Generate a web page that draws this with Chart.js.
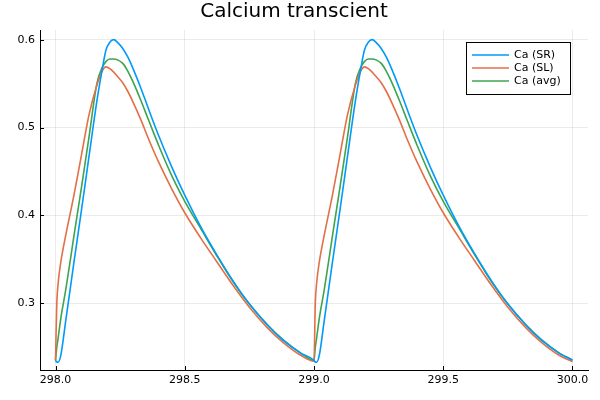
<!DOCTYPE html>
<html>
<head>
<meta charset="utf-8">
<script src="https://cdn.jsdelivr.net/npm/chart.js@4/dist/chart.umd.min.js"></script>
<style>
  html, body { margin: 0; padding: 0; background: #fff; }
  #wrap { width: 600px; height: 400px; }
</style>
</head>
<body>
<div id="wrap"><canvas id="myChart" width="600" height="400"></canvas></div>
<script>
// time (s), two beats
var times = [
  298.0, 298.005, 298.01, 298.02, 298.04, 298.07, 298.10, 298.13, 298.16, 298.18, 298.195, 298.21, 298.225,
  298.24, 298.26, 298.28, 298.30, 298.33, 298.36, 298.40, 298.45, 298.50, 298.56, 298.62, 298.69, 298.75,
  298.82, 298.88, 298.95,
  299.0, 299.005, 299.01, 299.02, 299.04, 299.07, 299.10, 299.13, 299.16, 299.18, 299.195, 299.21, 299.225,
  299.24, 299.26, 299.28, 299.30, 299.33, 299.36, 299.40, 299.45, 299.50, 299.56, 299.62, 299.69, 299.75,
  299.82, 299.88, 299.95, 300.0
];
var ca_sr = [
  0.235, 0.233, 0.233, 0.240, 0.281, 0.344, 0.405, 0.468, 0.530, 0.565, 0.588, 0.597, 0.600,
  0.597, 0.590, 0.580, 0.567, 0.545, 0.521, 0.490, 0.455, 0.423, 0.388, 0.357, 0.324, 0.299,
  0.275, 0.258, 0.243,
  0.235, 0.233, 0.233, 0.240, 0.281, 0.344, 0.405, 0.468, 0.530, 0.565, 0.588, 0.597, 0.600,
  0.597, 0.590, 0.580, 0.567, 0.545, 0.521, 0.490, 0.455, 0.423, 0.388, 0.357, 0.324, 0.299,
  0.275, 0.258, 0.243, 0.235
];
var ca_sl = [
  0.235, 0.300, 0.322, 0.346, 0.378, 0.421, 0.468, 0.515, 0.548, 0.564, 0.569, 0.567, 0.563,
  0.558, 0.551, 0.541, 0.529, 0.509, 0.487, 0.460, 0.430, 0.403, 0.375, 0.349, 0.319, 0.2955,
  0.272, 0.2555, 0.2405,
  0.234, 0.300, 0.322, 0.346, 0.378, 0.421, 0.468, 0.515, 0.548, 0.564, 0.569, 0.567, 0.563,
  0.558, 0.551, 0.541, 0.529, 0.509, 0.487, 0.460, 0.430, 0.403, 0.375, 0.349, 0.319, 0.2955,
  0.272, 0.2555, 0.2405, 0.2335
];
var ca_avg = [
  0.235, 0.250, 0.260, 0.282, 0.316, 0.374, 0.431, 0.490, 0.550, 0.568, 0.575, 0.578, 0.578,
  0.577, 0.573, 0.564, 0.552, 0.531, 0.5085, 0.479, 0.445, 0.416, 0.386, 0.356, 0.323, 0.299,
  0.2755, 0.2585, 0.243,
  0.235, 0.250, 0.260, 0.282, 0.316, 0.374, 0.431, 0.490, 0.550, 0.568, 0.575, 0.578, 0.578,
  0.577, 0.573, 0.564, 0.552, 0.531, 0.5085, 0.479, 0.445, 0.416, 0.386, 0.356, 0.323, 0.299,
  0.2755, 0.2585, 0.243, 0.2355
];
var series_names = ['Ca (SR)', 'Ca (SL)', 'Ca (avg)'];
var x_ticks = [298.0, 298.5, 299.0, 299.5, 300.0];
var y_ticks = [0.3, 0.4, 0.5, 0.6];

var line_color = ['#009AFA', '#E36F47', '#3EA44E'];
var font_name = "'DejaVu Sans', sans-serif";

function to_points(vals) {
    var pts = [];
    for (var i = 0; i < times.length; i++) {
        pts.push({x: times[i], y: vals[i]});
    }
    return pts;
}

var all_series = [ca_sr, ca_sl, ca_avg];
var data_set = [];
for (var s = 0; s < all_series.length; s++) {
    data_set.push({
        label: series_names[s],
        data: to_points(all_series[s]),
        borderColor: line_color[s],
        backgroundColor: line_color[s],
        borderWidth: 1.6,
        pointRadius: 0,
        cubicInterpolationMode: 'monotone',
        fill: false
    });
}

// small inward tick marks like the original plot
const tick_marks = {
    id: 'tick_marks',
    afterDatasetsDraw: (chart) => {
        const ctx = chart.ctx;
        const a = chart.chartArea;
        const xs = chart.scales.x, ys = chart.scales.y;
        ctx.save();
        ctx.strokeStyle = '#000';
        ctx.lineWidth = 1;
        ctx.beginPath();
        x_ticks.forEach(v => {
            const px = Math.round(xs.getPixelForValue(v)) + 0.5;
            ctx.moveTo(px, a.bottom);
            ctx.lineTo(px, a.bottom - 4);
        });
        y_ticks.forEach(v => {
            const py = Math.round(ys.getPixelForValue(v)) + 0.5;
            ctx.moveTo(a.left, py);
            ctx.lineTo(a.left + 4, py);
        });
        ctx.stroke();
        ctx.restore();
    }
};

// legend box in the top right corner of the plot area
const legend_box = {
    id: 'legend_box',
    afterDraw: (chart) => {
        const ctx = chart.ctx;
        const a = chart.chartArea;
        const w = 104, h = 52;
        const x0 = a.right - 18 - w, y0 = a.top + 12;
        ctx.save();
        ctx.fillStyle = '#fff';
        ctx.fillRect(x0, y0, w, h);
        ctx.strokeStyle = '#000';
        ctx.lineWidth = 1;
        ctx.strokeRect(x0 + 0.5, y0 + 0.5, w, h);
        ctx.font = '11px ' + font_name;
        ctx.textBaseline = 'middle';
        chart.data.datasets.forEach((ds, i) => {
            const yy = y0 + 13 + i * 13;
            ctx.strokeStyle = ds.borderColor;
            ctx.lineWidth = 1.6;
            ctx.beginPath();
            ctx.moveTo(x0 + 6, yy);
            ctx.lineTo(x0 + 43, yy);
            ctx.stroke();
            ctx.fillStyle = '#000';
            ctx.fillText(ds.label, x0 + 48, yy);
        });
        ctx.restore();
    }
};

var the_chart_canvas = document.getElementById('myChart').getContext('2d');
var myChart = new Chart(the_chart_canvas, {
    type: 'line',
    data: { datasets: data_set },
    options: {
        responsive: false,
        animation: false,
        layout: { padding: { left: 0, right: 12, top: 0, bottom: 0 } },
        plugins: {
            legend: { display: false },
            tooltip: { enabled: false },
            title: {
                display: true,
                text: 'Calcium transcient',
                color: '#000',
                font: { family: font_name, size: 20, weight: 'normal' },
                padding: { top: 0, bottom: 6 }
            }
        },
        scales: {
            x: {
                type: 'linear',
                min: 297.94,
                max: 300.06,
                afterBuildTicks: (sc) => { sc.ticks = x_ticks.map(v => ({value: v})); },
                afterFit: (sc) => { sc.height = 30; },
                ticks: {
                    color: '#000',
                    font: { family: font_name, size: 11 },
                    padding: 4,
                    maxRotation: 0,
                    callback: (v) => Number(v).toFixed(1)
                },
                grid: { color: 'rgba(0,0,0,0.08)', drawTicks: false },
                border: { color: '#000', width: 1 }
            },
            y: {
                min: 0.224,
                max: 0.611,
                afterBuildTicks: (sc) => { sc.ticks = y_ticks.map(v => ({value: v})); },
                afterFit: (sc) => { sc.width = 40; },
                ticks: {
                    color: '#000',
                    font: { family: font_name, size: 11 },
                    padding: 5,
                    callback: (v) => Number(v).toFixed(1)
                },
                grid: { color: 'rgba(0,0,0,0.08)', drawTicks: false },
                border: { color: '#000', width: 1 }
            }
        }
    },
    plugins: [tick_marks, legend_box]
});
</script>
</body>
</html>
